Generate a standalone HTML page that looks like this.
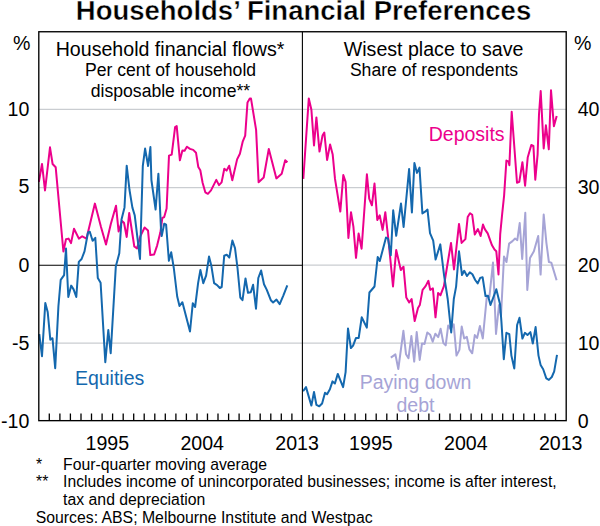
<!DOCTYPE html><html><head><meta charset="utf-8"><style>html,body{margin:0;padding:0;background:#fff;width:600px;height:526px;overflow:hidden}svg{display:block}text{font-family:"Liberation Sans",sans-serif}</style></head><body>
<svg width="600" height="526" viewBox="0 0 600 526">
<line x1="38.8" y1="109.4" x2="566.2" y2="109.4" stroke="#CACDD1" stroke-width="1.2"/>
<line x1="38.8" y1="187.7" x2="566.2" y2="187.7" stroke="#CACDD1" stroke-width="1.2"/>
<line x1="38.8" y1="343.1" x2="566.2" y2="343.1" stroke="#CACDD1" stroke-width="1.2"/>
<line x1="302.4" y1="265.2" x2="566.2" y2="265.2" stroke="#CACDD1" stroke-width="1.2"/>
<line x1="38.8" y1="265.2" x2="302.4" y2="265.2" stroke="#000" stroke-width="1.1"/>
<path d="M38.9,181.9 L42.0,163.9 L45.0,190.5 L50.0,147.3 L52.6,164.0 L55.7,167.3 L63.4,251.5 L66.0,239.3 L68.6,238.6 L71.0,243.1 L74.0,228.7 L78.9,238.6 L82.2,236.3 L86.5,238.6 L94.9,203.6 L101.0,227.1 L106.0,244.6 L110.8,224.1 L116.0,205.7 L118.6,231.5 L122.0,221.0 L124.0,222.7 L126.7,237.0 L129.2,213.0 L134.3,246.5 L137.0,248.4 L140.4,236.1 L144.6,227.5 L148.0,230.4 L150.3,255.1 L154.1,254.5 L157.1,245.6 L160.4,232.3 L162.3,218.0 L164.2,217.1 L166.6,208.5 L169.0,155.6 L171.7,154.6 L175.1,127.1 L176.7,126.1 L179.9,160.3 L182.4,150.5 L184.6,150.8 L186.9,146.7 L190.0,148.9 L193.2,149.9 L196.0,152.7 L198.3,167.0 L200.3,170.3 L202.6,182.8 L205.3,192.3 L207.9,193.8 L211.0,190.4 L216.3,179.9 L219.0,185.1 L221.6,182.4 L224.3,168.7 L226.6,170.6 L229.2,165.7 L232.3,180.2 L237.1,159.4 L239.9,153.7 L242.8,141.3 L245.2,135.6 L247.5,102.4 L249.8,98.6 L251.0,98.6 L256.1,129.9 L258.6,182.2 L263.7,177.5 L268.8,148.9 L276.4,178.4 L281.7,173.7 L285.2,160.3 L287.5,162.2" fill="none" stroke="#EC008C" stroke-width="2.0" stroke-linejoin="round"/>
<path d="M39.3,334.2 L42.0,356.2 L45.3,303.0 L47.7,312.0 L50.3,339.7 L52.5,338.2 L55.2,368.2 L58.4,306.5 L60.7,279.9 L64.1,275.2 L66.0,248.6 L68.3,297.0 L71.2,285.6 L73.6,289.4 L76.3,297.0 L78.8,261.9 L81.6,259.0 L84.5,251.4 L88.0,232.5 L89.8,231.7 L92.6,240.8 L95.3,237.8 L97.8,278.0 L100.6,282.8 L105.3,362.2 L108.3,330.0 L110.7,353.2 L115.8,266.6 L119.3,253.3 L121.5,219.5 L124.5,207.4 L126.7,165.7 L129.5,190.0 L132.4,207.6 L134.7,215.2 L140.0,258.9 L142.8,166.0 L145.1,148.6 L148.1,166.0 L150.4,147.0 L151.4,180.0 L154.1,199.0 L155.6,209.5 L158.4,173.7 L161.0,229.4 L161.7,236.1 L164.2,223.7 L166.1,224.7 L168.9,260.8 L171.2,252.2 L173.8,268.0 L177.2,296.5 L179.5,306.0 L182.4,302.2 L190.0,331.5 L192.8,303.2 L195.1,307.0 L198.1,283.2 L200.4,269.9 L203.3,283.2 L206.1,275.6 L209.0,256.6 L211.4,266.1 L214.1,283.2 L217.1,285.1 L219.8,288.0 L221.7,287.0 L224.2,255.7 L226.7,254.7 L229.3,257.6 L232.4,240.5 L235.0,248.1 L237.5,268.0 L240.3,297.5 L242.5,300.2 L245.5,278.5 L248.0,292.8 L250.8,292.2 L253.1,284.8 L256.0,308.7 L258.3,278.0 L261.1,270.5 L264.0,284.2 L266.8,289.9 L270.8,300.2 L273.1,302.5 L276.5,299.6 L279.7,304.2 L283.3,295.6 L287.3,285.4" fill="none" stroke="#1468AE" stroke-width="2.0" stroke-linejoin="round"/>
<path d="M390.8,357.6 L395.4,354.4 L398.3,369.0 L403.4,330.8 L406.0,354.2 L408.5,358.2 L411.4,336.0 L414.2,361.6 L416.7,332.0 L419.7,359.9 L422.0,343.4 L424.5,344.0 L427.3,332.5 L430.2,334.8 L432.7,341.7 L435.3,333.7 L438.2,337.1 L440.6,328.8 L443.4,343.1 L445.7,345.4 L448.2,325.4 L450.3,328.8 L453.7,324.3 L456.5,355.6 L459.4,349.9 L461.7,326.5 L464.2,338.5 L466.8,336.8 L469.4,349.4 L472.2,353.3 L474.8,335.1 L477.1,338.0 L479.9,326.0 L482.8,338.5 L486.7,297.8 L489.4,296.9 L493.0,262.6 L496.0,334.0 L499.0,305.0 L501.0,316.0 L504.0,256.5 L506.5,262.0 L509.1,243.6 L512.5,241.1 L515.1,238.5 L517.3,240.2 L519.7,223.1 L522.2,259.0 L525.3,212.8 L527.3,289.9 L530.0,258.0 L533.9,251.3 L538.2,235.9 L540.6,274.6 L543.7,214.5 L546.4,242.8 L548.9,262.0 L551.3,262.6 L556.6,280.3" fill="none" stroke="#A6A4D6" stroke-width="2.0" stroke-linejoin="round"/>
<path d="M303.3,178.9 L308.8,98.4 L311.4,109.8 L314.0,145.5 L316.4,117.4 L319.5,151.6 L322.5,135.6 L324.3,132.6 L327.1,160.0 L330.1,144.4 L332.7,154.6 L335.0,178.9 L340.3,211.6 L343.3,175.1 L345.6,181.9 L348.4,238.0 L351.0,212.2 L353.4,226.6 L356.0,257.8 L358.6,233.5 L361.6,248.7 L366.9,174.3 L369.2,198.7 L371.9,205.3 L374.5,183.5 L377.3,220.0 L379.7,215.3 L382.6,229.9 L385.3,212.2 L388.4,239.5 L393.0,286.5 L396.2,250.0 L400.8,270.0 L403.5,266.7 L406.3,297.6 L409.2,302.5 L411.6,299.0 L414.7,321.1 L418.0,308.1 L419.8,305.1 L422.6,289.9 L425.6,286.1 L428.4,280.8 L430.2,289.9 L432.9,288.4 L435.5,317.3 L438.1,292.9 L440.5,295.2 L443.9,286.1 L447.1,266.5 L451.0,242.9 L454.0,269.5 L459.0,223.9 L461.6,242.9 L465.4,239.1 L467.7,217.0 L470.0,213.2 L472.2,214.8 L474.8,234.5 L477.9,229.0 L480.6,236.0 L483.0,224.5 L484.8,229.1 L487.7,233.4 L492.0,245.3 L494.5,249.6 L496.3,251.3 L498.5,274.4 L500.2,234.2 L502.2,213.7 L504.1,195.6 L506.4,160.6 L508.4,161.4 L509.4,165.2 L511.7,111.7 L517.0,182.7 L519.3,181.9 L522.4,162.2 L525.1,185.7 L527.7,157.6 L531.3,145.0 L533.4,145.9 L535.3,179.7 L537.6,154.6 L539.0,114.2 L540.7,91.1 L543.7,148.4 L545.9,125.3 L548.8,149.3 L551.0,90.3 L553.9,126.2 L556.7,115.9" fill="none" stroke="#EC008C" stroke-width="2.0" stroke-linejoin="round"/>
<path d="M303.1,391.3 L306.0,387.1 L311.4,405.6 L314.0,392.0 L316.4,404.9 L319.3,406.3 L322.1,403.5 L325.0,392.8 L327.1,394.2 L329.9,389.2 L332.5,381.4 L334.9,383.5 L337.8,373.9 L340.2,379.9 L343.1,387.1 L345.6,372.1 L348.0,328.4 L350.9,348.1 L353.1,345.6 L356.0,337.9 L358.7,337.9 L361.7,317.3 L366.8,327.6 L369.4,292.5 L374.5,286.5 L377.7,257.0 L379.8,261.0 L386.0,237.5 L388.0,238.7 L390.8,255.3 L393.2,210.3 L396.2,235.8 L401.0,203.5 L403.6,227.0 L409.1,169.1 L411.9,212.5 L414.4,163.0 L417.0,172.9 L419.5,167.6 L422.4,213.4 L425.1,211.7 L427.5,209.6 L430.0,233.2 L433.2,240.6 L435.6,259.5 L440.3,244.4 L444.1,275.6 L447.7,299.0 L451.2,332.5 L453.8,299.0 L456.1,286.6 L459.0,251.3 L462.0,275.0 L464.2,270.8 L467.0,276.0 L469.8,272.4 L472.4,274.3 L475.2,280.0 L477.7,283.4 L480.2,277.9 L482.6,277.2 L485.5,296.0 L488.0,295.7 L490.5,305.0 L496.3,289.3 L500.1,304.4 L501.4,321.4 L503.8,359.2 L506.4,332.8 L509.3,334.2 L511.4,355.6 L514.3,368.5 L517.1,325.0 L519.5,317.8 L522.4,338.5 L524.9,332.8 L527.5,335.0 L530.4,332.1 L532.8,343.5 L535.6,327.1 L538.5,355.6 L540.6,364.9 L543.2,369.2 L546.3,378.4 L548.9,379.9 L551.8,377.0 L554.2,371.3 L557.0,354.9" fill="none" stroke="#1468AE" stroke-width="2.0" stroke-linejoin="round"/>
<rect x="38.8" y="31.75" width="527.4000000000001" height="388.9" fill="none" stroke="#000" stroke-width="1.35"/>
<line x1="302.4" y1="31.75" x2="302.4" y2="420.65" stroke="#000" stroke-width="1.1"/>
<path d="M49.3,413.6V420.6 M312.9,413.6V420.6 M59.9,413.6V420.6 M323.5,413.6V420.6 M70.4,413.6V420.6 M334.0,413.6V420.6 M81.0,413.6V420.6 M344.6,413.6V420.6 M91.5,413.6V420.6 M355.1,413.6V420.6 M102.1,413.6V420.6 M365.7,413.6V420.6 M112.6,413.6V420.6 M376.2,413.6V420.6 M123.2,413.6V420.6 M386.8,413.6V420.6 M133.7,413.6V420.6 M397.3,413.6V420.6 M144.2,413.6V420.6 M407.8,413.6V420.6 M154.8,413.6V420.6 M418.4,413.6V420.6 M165.3,413.6V420.6 M428.9,413.6V420.6 M175.9,413.6V420.6 M439.5,413.6V420.6 M186.4,413.6V420.6 M450.0,413.6V420.6 M197.0,413.6V420.6 M460.6,413.6V420.6 M207.5,413.6V420.6 M471.1,413.6V420.6 M218.0,413.6V420.6 M481.6,413.6V420.6 M228.6,413.6V420.6 M492.2,413.6V420.6 M239.1,413.6V420.6 M502.7,413.6V420.6 M249.7,413.6V420.6 M513.3,413.6V420.6 M260.2,413.6V420.6 M523.8,413.6V420.6 M270.8,413.6V420.6 M534.4,413.6V420.6 M281.3,413.6V420.6 M544.9,413.6V420.6 M291.9,413.6V420.6 M555.5,413.6V420.6" stroke="#000" stroke-width="1.3" fill="none"/>
<text x="303.5" y="20.3" font-size="27.5" text-anchor="middle" font-weight="bold" fill="#000" stroke="#fff" stroke-width="0.4">Households’ Financial Preferences</text>
<text x="170.1" y="55.6" font-size="19.6" text-anchor="middle" font-weight="normal" fill="#000">Household financial flows*</text>
<text x="170.5" y="75.5" font-size="17.6" text-anchor="middle" font-weight="normal" fill="#000">Per cent of household</text>
<text x="170.5" y="96.5" font-size="17.6" text-anchor="middle" font-weight="normal" fill="#000">disposable income**</text>
<text x="433.6" y="55.6" font-size="19.6" text-anchor="middle" font-weight="normal" fill="#000">Wisest place to save</text>
<text x="434" y="75.5" font-size="17.6" text-anchor="middle" font-weight="normal" fill="#000">Share of respondents</text>
<text x="30.5" y="49.8" font-size="19.6" text-anchor="end" font-weight="normal" fill="#000">%</text>
<text x="574" y="49.8" font-size="19.6" text-anchor="start" font-weight="normal" fill="#000">%</text>
<text x="29.4" y="115.5" font-size="19.6" text-anchor="end" font-weight="normal" fill="#000">10</text>
<text x="29.4" y="193.3" font-size="19.6" text-anchor="end" font-weight="normal" fill="#000">5</text>
<text x="29.4" y="272.2" font-size="19.6" text-anchor="end" font-weight="normal" fill="#000">0</text>
<text x="29.4" y="349.7" font-size="19.6" text-anchor="end" font-weight="normal" fill="#000">-5</text>
<text x="29.4" y="427.9" font-size="19.6" text-anchor="end" font-weight="normal" fill="#000">-10</text>
<text x="577.7" y="116.0" font-size="19.6" text-anchor="start" font-weight="normal" fill="#000">40</text>
<text x="577.7" y="194.3" font-size="19.6" text-anchor="start" font-weight="normal" fill="#000">30</text>
<text x="577.7" y="272.2" font-size="19.6" text-anchor="start" font-weight="normal" fill="#000">20</text>
<text x="577.7" y="350.0" font-size="19.6" text-anchor="start" font-weight="normal" fill="#000">10</text>
<text x="577.7" y="427.9" font-size="19.6" text-anchor="start" font-weight="normal" fill="#000">0</text>
<text x="107.3" y="450.2" font-size="19.6" text-anchor="middle" font-weight="normal" fill="#000">1995</text>
<text x="202.2" y="450.2" font-size="19.6" text-anchor="middle" font-weight="normal" fill="#000">2004</text>
<text x="297.1" y="450.2" font-size="19.6" text-anchor="middle" font-weight="normal" fill="#000">2013</text>
<text x="370.9" y="450.2" font-size="19.6" text-anchor="middle" font-weight="normal" fill="#000">1995</text>
<text x="465.8" y="450.2" font-size="19.6" text-anchor="middle" font-weight="normal" fill="#000">2004</text>
<text x="560.7" y="450.2" font-size="19.6" text-anchor="middle" font-weight="normal" fill="#000">2013</text>
<text x="109.6" y="384.7" font-size="19.5" text-anchor="middle" font-weight="normal" fill="#1468AE">Equities</text>
<text x="466.7" y="140.6" font-size="19.5" text-anchor="middle" font-weight="normal" fill="#EC008C">Deposits</text>
<text x="415.5" y="389" font-size="19.5" text-anchor="middle" font-weight="normal" fill="#A6A4D6">Paying down</text>
<text x="415.5" y="411.8" font-size="19.5" text-anchor="middle" font-weight="normal" fill="#A6A4D6">debt</text>
<text x="36" y="469.8" font-size="15.8" text-anchor="start" font-weight="normal" fill="#000">*</text>
<text x="63.1" y="469.8" font-size="15.75" text-anchor="start" font-weight="normal" fill="#000">Four-quarter moving average</text>
<text x="36" y="486.8" font-size="15.8" text-anchor="start" font-weight="normal" fill="#000">**</text>
<text x="63.1" y="486.8" font-size="15.7" text-anchor="start" font-weight="normal" fill="#000">Includes income of unincorporated businesses; income is after interest,</text>
<text x="63.1" y="504.5" font-size="15.8" text-anchor="start" font-weight="normal" fill="#000">tax and depreciation</text>
<text x="35.7" y="522.6" font-size="15.8" text-anchor="start" font-weight="normal" fill="#000">Sources: ABS; Melbourne Institute and Westpac</text>
</svg></body></html>
